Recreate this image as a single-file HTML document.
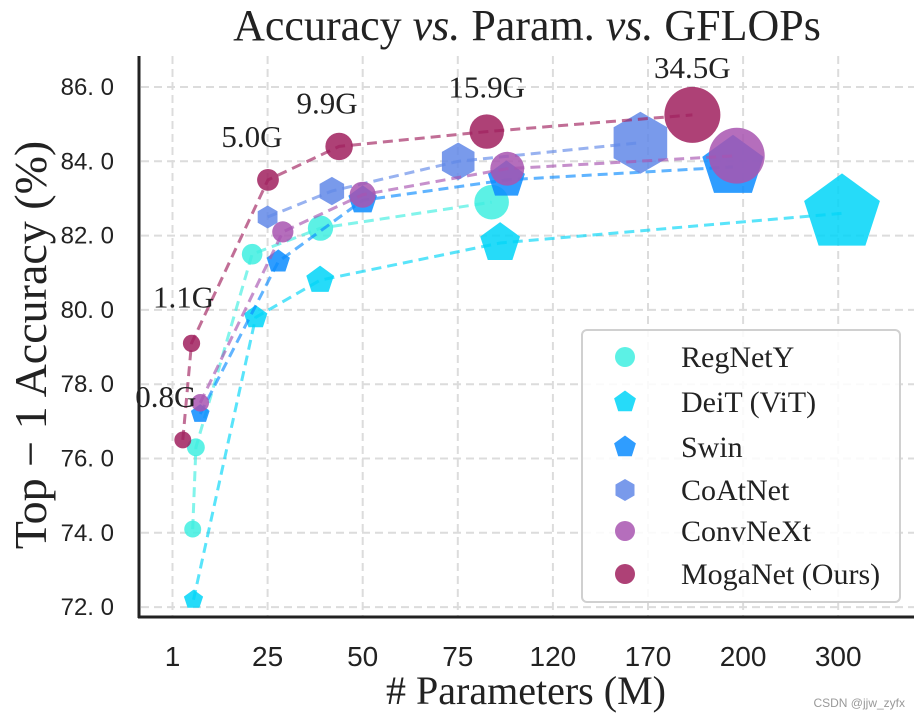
<!DOCTYPE html>
<html><head><meta charset="utf-8"><style>
html,body{margin:0;padding:0;background:#fff;}
svg{display:block;}
.serif{font-family:"Liberation Serif",serif;fill:#222;}
.sans{font-family:"Liberation Sans",sans-serif;fill:#222;}
</style></head><body>
<svg id="chart" width="924" height="716" viewBox="0 0 924 716">
<text class="serif" x="527" y="40" font-size="44" text-anchor="middle">Accuracy <tspan font-style="italic">vs.</tspan> Param. <tspan font-style="italic">vs.</tspan> GFLOPs</text>
<g id="grid"></g>
<g id="ticks"></g>
<g id="series"></g>
<g id="annots"></g>
<line x1="139" y1="56" x2="139" y2="618" stroke="#222" stroke-width="3"/>
<line x1="138" y1="617" x2="914" y2="617" stroke="#222" stroke-width="3"/>
<text class="serif" x="526" y="704" font-size="40" text-anchor="middle"># Parameters (M)</text>
<text class="serif" font-size="46" text-anchor="middle" transform="translate(46,345) rotate(-90)">Top − 1 Accuracy (%)</text>
<g id="legend">
<rect x="582" y="330" width="318" height="272" rx="5" fill="#fff" fill-opacity="0.85" stroke="#d0d0d0" stroke-width="2"/>
</g>
<text x="905" y="707" font-family="Liberation Sans,sans-serif" font-size="12" fill="#999" text-anchor="end">CSDN @jjw_zyfx</text>
</svg>
<script>
const tickVals=[1,25,50,75,120,170,200,300];
const yTicks=[72,74,76,78,80,82,84,86];
const names=["RegNetY","DeiT (ViT)","Swin","CoAtNet","ConvNeXt","MogaNet (Ours)"];
const regParams=[6.1,6.9,21.1,38.9,91];
const regAcc=[74.1,76.3,81.5,82.2,82.9];
const regFlops=[0.8,1.6,4.0,8.0,16.0];
const deitParams=[6.3,22,38.8,95,304];
const deitAcc=[72.2,79.8,80.8,81.8,82.6];
const deitFlops=[1.3,4.6,8.0,17.6,46];
const swinParams=[8,27.8,50,98,196.8];
const swinAcc=[77.2,81.3,82.95,83.5,83.85];
const swinFlops=[1.0,4.5,8.7,15.4,34.5];
const coatParams=[25,41.9,75.2,166];
const coatAcc=[82.5,83.2,84.0,84.5];
const coatFlops=[4.2,8.4,15.7,34.7];
const convParams=[8,29,50,98.4,198];
const convAcc=[77.5,82.1,83.1,83.8,84.15];
const convFlops=[1.4,4.5,8.7,15.4,34.4];
const mogaParams=[3.6,5.8,25.1,43.8,88.7,184];
const mogaAcc=[76.5,79.1,83.5,84.4,84.8,85.25];
const mogaFlops=[0.8,1.1,5.0,9.9,15.9,34.5];
const mogaLabels=["0.8G","1.1G","5.0G","9.9G","15.9G","34.5G"];

const NS="http://www.w3.org/2000/svg";
function mk(tag,attrs,parent){const e=document.createElementNS(NS,tag);for(const k in attrs)e.setAttribute(k,attrs[k]);parent.appendChild(e);return e;}
function xIdx(p){let i=0;while(i<tickVals.length-2&&p>tickVals[i+1])i++;return i+(p-tickVals[i])/(tickVals[i+1]-tickVals[i]);}
function X(p){return 172.5+95.1*xIdx(p);}
function Y(v){return 87+(86-v)*37.15;}
function R(f){return 8+0.58*f;}

const grid=document.getElementById('grid'),ticks=document.getElementById('ticks');
tickVals.forEach((t,i)=>{
  const x=X(t);
  const gl=mk('line',{x1:x,y1:56,x2:x,y2:616,stroke:'#dcdcdc','stroke-width':2,'stroke-dasharray':'8,5'},grid);
  
  
  const tl=mk('text',{x:x,y:666,'font-size':28,'text-anchor':'middle',class:'sans'},ticks);
  tl.textContent=t;
  
  
});
yTicks.forEach(v=>{
  const y=Y(v);
  const gl=mk('line',{x1:141,y1:y,x2:914,y2:y,stroke:'#dcdcdc','stroke-width':2,'stroke-dasharray':'8,5'},grid);
  
  
  const tl=mk('text',{x:114,y:y+8,'font-size':24,'text-anchor':'end',class:'sans'},ticks);
  tl.textContent=v.toFixed(1).replace('.', '. ');
  
  
});

function poly(n,cx,cy,r,rot){let pts=[];for(let k=0;k<n;k++){const a=rot+k*2*Math.PI/n;pts.push((cx+r*Math.cos(a)).toFixed(1)+','+(cy+r*Math.sin(a)).toFixed(1));}return pts.join(' ');}
function marker(shape,cx,cy,r,color,parent){
  if(shape==='circle')return mk('circle',{cx:cx,cy:cy,r:r,fill:color,'fill-opacity':0.85},parent);
  if(shape==='pent')return mk('polygon',{points:poly(5,cx,cy,r*1.15,-Math.PI/2),fill:color,'fill-opacity':0.85},parent);
  return mk('polygon',{points:poly(6,cx,cy,r*1.1,-Math.PI/2),fill:color,'fill-opacity':0.85},parent);
}
const seriesDefs=[
 {p:regParams,a:regAcc,f:regFlops,c:'#3FEEE0',s:'circle',n:'regnety'},
 {p:deitParams,a:deitAcc,f:deitFlops,c:'#00D5F8',s:'pent',n:'deit'},
 {p:swinParams,a:swinAcc,f:swinFlops,c:'#0A8CFF',s:'pent',n:'swin'},
 {p:coatParams,a:coatAcc,f:coatFlops,c:'#6188E8',s:'hex',n:'coatnet'},
 {p:convParams,a:convAcc,f:convFlops,c:'#A855B0',s:'circle',n:'convnext'},
 {p:mogaParams,a:mogaAcc,f:mogaFlops,c:'#A0205E',s:'circle',n:'moganet'}
];
const sg=document.getElementById('series');
seriesDefs.forEach(d=>{
  const g=mk('g',{},sg);
  
  
  const pts=d.p.map((p,i)=>X(p).toFixed(1)+','+Y(d.a[i]).toFixed(1)).join(' ');
  d.p.forEach((p,i)=>{
    const m=marker(d.s,X(p),Y(d.a[i]),R(d.f[i]),d.c,g);
    
    
  });
  const l=mk('polyline',{points:pts,fill:'none',stroke:d.c,'stroke-opacity':0.65,'stroke-width':3,'stroke-dasharray':'10,6'},g);
  
  
});
const offs=[[-17,-33],[-8,-36],[-16,-33],[-12,-33],[0,-34],[0,-37]];
const an=document.getElementById('annots');
mogaLabels.forEach((t,i)=>{
  const e=mk('text',{x:X(mogaParams[i])+offs[i][0],y:Y(mogaAcc[i])+offs[i][1],'font-size':31,'text-anchor':'middle',class:'serif'},an);
  e.textContent=t;
  
  
});
const lg=document.getElementById('legend');
const legY=[357,402,447,490,531,574];
seriesDefs.forEach((d,i)=>{
  const m=marker(d.s,625,legY[i],10,d.c,lg);
  
  
  const t=mk('text',{x:681,y:legY[i]+10,'font-size':30,class:'serif'},lg);
  t.textContent=names[i];
  
  
});
</script>
</body></html>
